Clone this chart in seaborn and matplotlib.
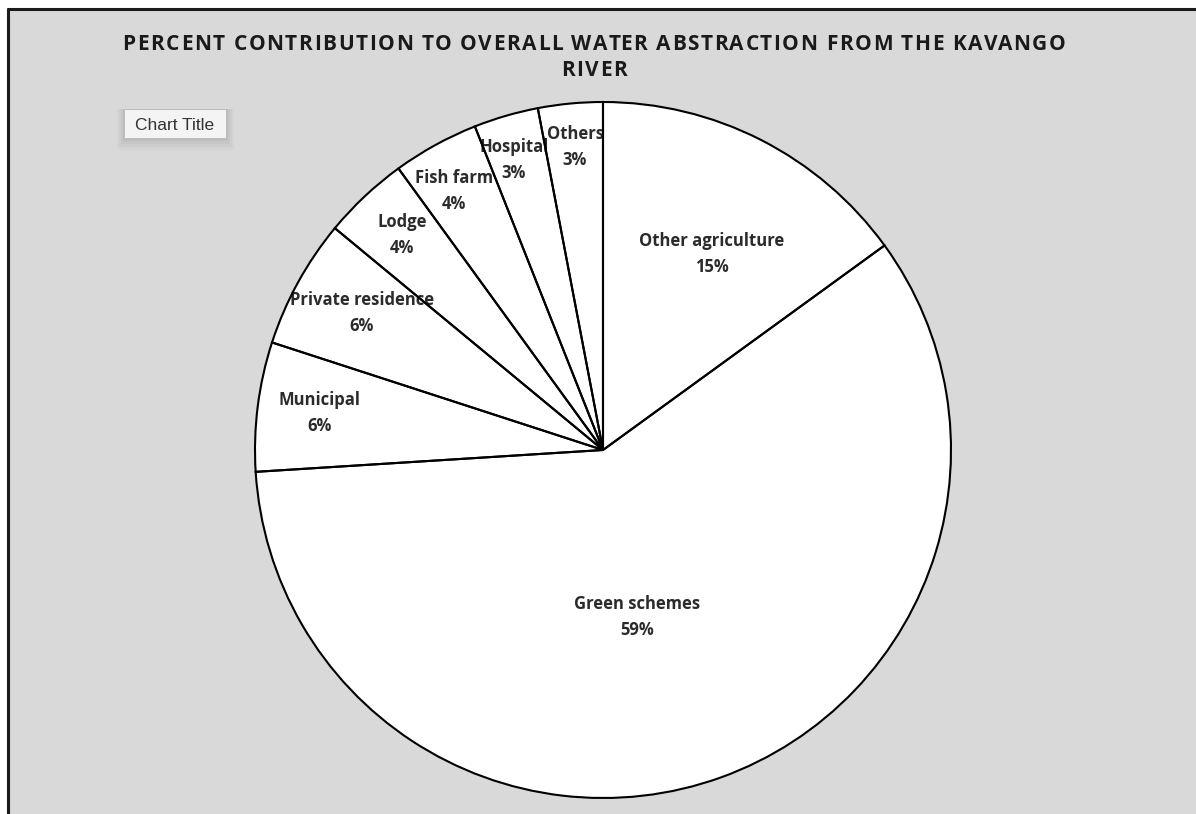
import matplotlib
matplotlib.use("Agg")
import matplotlib.pyplot as plt
from matplotlib.patches import Rectangle
from matplotlib.lines import Line2D
import seaborn as sns

# Share of total water abstraction from the Kavango River, by user group (%)
categories = ["Other agriculture", "Green schemes", "Municipal", "Private residence",
              "Lodge", "Fish farm", "Hospital", "Others"]
percent = [15, 59, 6, 6, 4, 4, 3, 3]

title_lines = ["PERCENT CONTRIBUTION TO OVERALL WATER ABSTRACTION FROM THE KAVANGO",
               "RIVER"]

sns.set_theme(style="white")
plt.rcParams["font.family"] = ["Open Sans", "DejaVu Sans"]

W, H = 1196, 814
fig = plt.figure(figsize=(W / 100, H / 100), dpi=100)
fig.patch.set_facecolor("white")
renderer = fig.canvas.get_renderer()

# grey chart panel with a dark frame on its top and left edges
panel_left, panel_top = 8 / W, 1 - 9 / H
fig.patches.append(Rectangle((panel_left, 0), 1 - panel_left, panel_top,
                             transform=fig.transFigure, facecolor="#d9d9d9",
                             edgecolor="none", zorder=-5))
fig.lines.append(Line2D([panel_left, 1], [panel_top, panel_top], transform=fig.transFigure,
                        color="#1a1a1a", lw=2.2, zorder=1))
fig.lines.append(Line2D([panel_left, panel_left], [0, panel_top], transform=fig.transFigure,
                        color="#1a1a1a", lw=2.2, zorder=1))

ax = fig.add_axes([0, 0, 1, 1])
ax.set_facecolor("none")

cx, cy, r = 603, H - 450, 348

# fills first, then labels, then outlines on top
ax.pie(percent, center=(cx, cy), radius=r, startangle=90, counterclock=False,
       colors=["white"] * len(percent), wedgeprops=dict(linewidth=0, zorder=1))
ax.pie(percent, center=(cx, cy), radius=r, startangle=90, counterclock=False,
       wedgeprops=dict(fill=False, edgecolor="black", linewidth=1.5, zorder=3))

label_pos = {
    "Other agriculture": (712, 254),
    "Green schemes": (637, 617),
    "Municipal": (320, 413),
    "Private residence": (362, 313),
    "Lodge": (402, 235),
    "Fish farm": (454, 191),
    "Hospital": (514, 160),
    "Others": (575, 147),
}
for name, val in zip(categories, percent):
    x, y = label_pos[name]
    ax.text(x, H - y, f"{name}\n{val}%", ha="center", va="center", fontsize=12,
            fontweight="bold", color="#2b2b2b", linespacing=1.55, zorder=2)

ax.set_xlim(0, W)
ax.set_ylim(0, H)
ax.set_aspect("equal")
ax.axis("off")


def text_width(s, **kw):
    t = fig.text(0, 0, s, **kw)
    w = t.get_window_extent(renderer).width
    t.remove()
    return w


def tracked_line(line, xc, y, track, **kw):
    """Draw one line of letter-spaced text centred on (xc, y) in pixels."""
    w_ref = text_width("I", **kw)
    offs = [0.0] + [text_width(line[:i] + "I", **kw) - w_ref for i in range(1, len(line))]
    total = text_width(line, **kw) + track * (len(line) - 1)
    x0 = xc - total / 2
    for i, ch in enumerate(line):
        if ch == " ":
            continue
        fig.text((x0 + offs[i] + track * i) / W, 1 - y / H, ch, ha="left",
                 va="center", **kw)


title_style = dict(fontsize=15, fontweight="bold", color="#1a1a1a")
for line, ypx in zip(title_lines, [44, 70]):
    tracked_line(line, 594, ypx, 1.6, **title_style)

# "Chart Title" placeholder box with a soft shadow
for k, a in enumerate([0.04, 0.035, 0.03, 0.02]):
    fig.patches.append(Rectangle(((125 - 2 - k * 2) / W, 1 - (141 + k * 3) / H),
                                 (101 + 4 + k * 4) / W, (32 + k * 3) / H,
                                 transform=fig.transFigure, facecolor="black",
                                 edgecolor="none", alpha=a, zorder=2))
fig.patches.append(Rectangle((125 / W, 1 - 138 / H), 101 / W, 28 / H,
                             transform=fig.transFigure, facecolor="#f4f4f4",
                             edgecolor="none", zorder=3))
fig.text(175 / W, 1 - 126 / H, "Chart Title", ha="center", va="center", fontsize=12.5,
         family="Liberation Sans", color="#333333", zorder=4)

fig.savefig("out.png", dpi=100)
